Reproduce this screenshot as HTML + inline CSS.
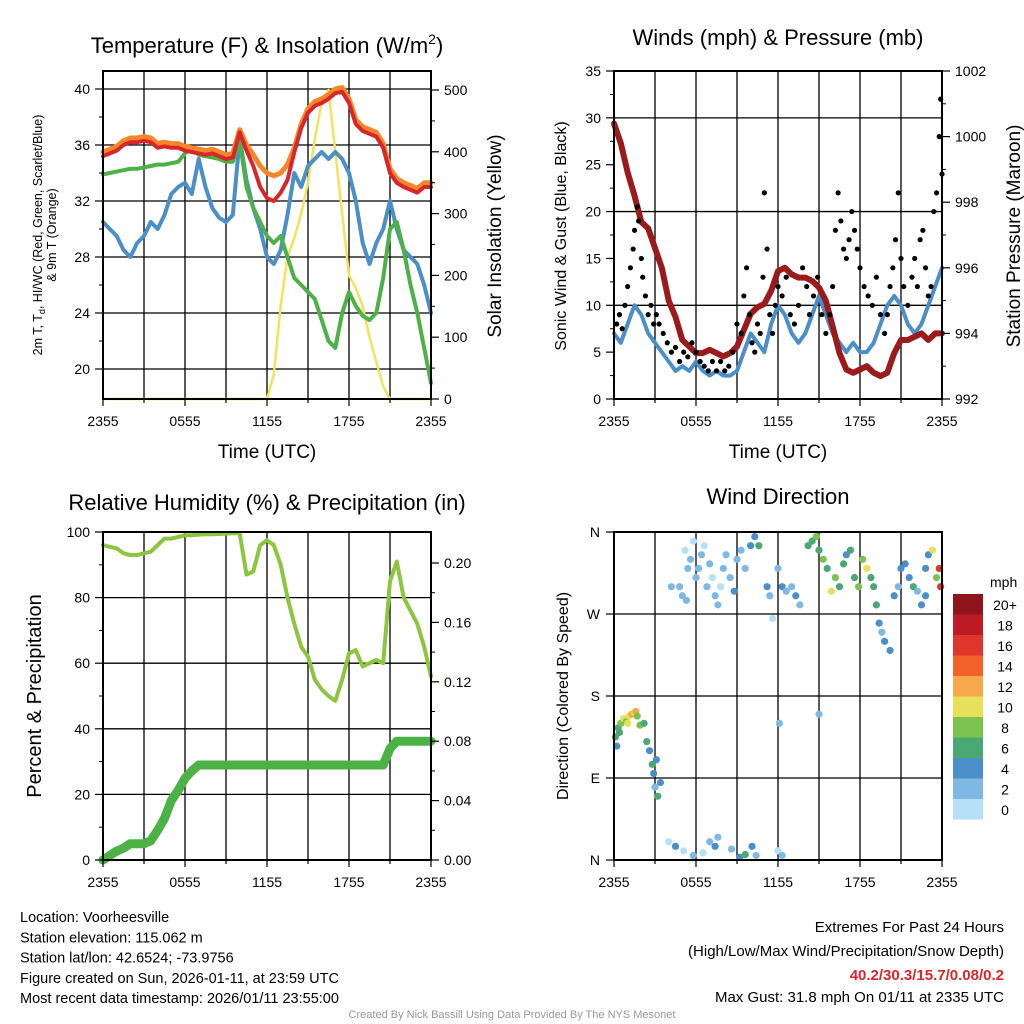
<!DOCTYPE html>
<html><head><meta charset="utf-8"><style>
body{margin:0;background:#fff;}
svg{display:block;font-family:"Liberation Sans",sans-serif;}
</style></head><body>
<svg id="c" width="1024" height="1024" viewBox="0 0 1024 1024"></svg>
<script>
// ---------- DATA ----------
const hours = [0,0.5,1,1.5,2,2.5,3,3.5,4,4.5,5,5.5,6,6.5,7,7.5,8,8.5,9,9.5,10,10.5,11,11.5,12,12.5,13,13.5,14,14.5,15,15.5,16,16.5,17,17.5,18,18.5,19,19.5,20,20.5,21,21.5,22,22.5,23,23.5,24];
const xTickLabels = ["2355","0555","1155","1755","2355"];
const tempRed = [35.2,35.4,35.6,36.0,36.2,36.2,36.3,36.2,35.8,35.9,35.8,35.8,35.6,35.5,35.4,35.3,35.4,35.2,35.0,35.1,36.9,35.6,34.5,33.0,32.2,32.0,32.6,33.5,35.5,37.2,38.3,38.8,39.0,39.3,39.7,39.8,39.0,37.5,37.0,36.8,36.6,35.8,34.0,33.3,33.0,32.8,32.6,33.0,33.0];
const temp9mOrange = [35.5,35.7,35.9,36.3,36.5,36.5,36.6,36.5,36.1,36.2,36.1,36.1,35.9,35.8,35.7,35.6,35.7,35.5,35.3,35.4,37.1,36.0,35.3,34.5,34.0,33.8,34.0,34.6,35.8,37.5,38.6,39.1,39.3,39.6,40.0,40.1,39.3,37.8,37.3,37.1,36.9,36.1,34.3,33.6,33.3,33.1,32.9,33.3,33.3];
const dewGreen = [33.9,34.0,34.1,34.2,34.3,34.3,34.4,34.5,34.6,34.6,34.7,34.8,35.4,35.8,35.3,35.2,35.1,35.0,34.8,34.8,36.3,33.0,31.5,30.5,29.5,29.0,29.5,28.0,26.5,26.0,25.5,25.0,23.5,22.0,21.5,24.0,25.5,24.5,23.8,23.5,24.0,26.5,30.0,30.5,28.5,26.0,24.0,21.5,19.0];
const windChillBlue = [30.5,30.0,29.5,28.5,28.0,29.0,29.5,30.5,30.0,31.0,32.5,33.0,33.3,32.5,35.0,33.0,31.5,30.8,30.5,31.0,36.5,33.5,31.5,30.0,28.0,27.5,28.5,31.0,34.0,33.0,34.5,35.0,35.5,35.0,35.5,35.0,34.0,32.0,29.0,27.5,29.0,30.0,32.0,30.0,28.5,28.0,27.5,26.0,24.0];
const solarYellow = [0,0,0,0,0,0,0,0,0,0,0,0,0,0,0,0,0,0,0,0,0,0,0,0,0,40,150,230,260,300,350,420,480,500,400,300,200,180,150,100,60,20,0,0,0,0,0,0,0];
const tempTicks = [20,24,28,32,36,40];
const solarTicks = [0,100,200,300,400,500];

const windBlue = [7,6,8,10,9,7,6,5,4,3,3.5,3,4,3,2.5,3,2.5,2.5,3,5,7,6,5,8,10,9,7,6,7,9,11,9,7,6,5,6,5,5,6,8,10,11,10,8,7,8,10,12,14];
const pressureMaroon = [1000.4,999.8,998.9,998.2,997.4,997.2,996.6,996.0,995.0,994.5,993.8,993.6,993.4,993.4,993.5,993.4,993.3,993.4,993.6,994.1,994.6,994.8,994.9,995.3,995.9,996.0,995.8,995.7,995.7,995.6,995.4,995.0,994.2,993.4,992.9,992.8,992.9,993.0,992.8,992.7,992.8,993.4,993.8,993.8,993.9,994.0,993.8,994.0,994.0];
const gustHours = [0.2,0.4,0.6,0.8,1,1.2,1.4,1.5,1.7,1.8,2,2.1,2.3,2.5,2.7,2.9,3.1,3.3,3.6,3.9,4.2,4.5,4.8,5.1,5.4,5.7,6,6.3,6.6,6.9,7.2,7.5,7.8,8.1,8.4,8.7,9,9.3,9.5,9.7,9.9,10.1,10.3,10.5,10.7,10.9,11,11.2,11.4,11.6,11.8,12,12.3,12.6,12.9,13.2,13.5,13.8,14.1,14.3,14.6,14.9,15.2,15.5,15.8,16,16.2,16.4,16.6,16.8,17,17.2,17.4,17.6,17.8,18,18.3,18.6,18.9,19.2,19.5,19.8,20,20.2,20.4,20.6,20.8,21,21.2,21.5,21.8,22,22.2,22.4,22.6,22.8,23,23.2,23.4,23.6,23.8,23.9,24];
const gustValues = [8,9,7.5,10,12,14,16,18,20.5,19,15,13,11,9,10,8,9,8,7,6,5,5.5,4,5,4.5,6,5,4,3.5,3,4,3,4,3,3.5,5,8,7,11,14,9,6,5,8,7,13,22,16,9,7,10,12,11,13,9,8,10,14,12,9,11,13,9,7,9,12,18,22,19,16,15,17,20,18,16,14,12,11,10,13,9,7,9,12,14,17,22,15,12,10,13,15,12,17,18,14,11,12,20,22,28,32,24];
const windTicks = [0,5,10,15,20,25,30,35];
const pressTicks = [992,994,996,998,1000,1002];

const rhPct = [96,95.5,95,93.5,93,93,93.5,94,96,98,98,98.5,99,99,99.2,99.3,99.3,99.4,99.5,99.6,99.6,87,88,96,97.5,96,90,80,72,65,62,55,52,50,48.5,55,63,64,59,60,61,60,85,91,80,76,72,65,56];
const precipIn = [0,0.003,0.006,0.008,0.011,0.011,0.011,0.013,0.02,0.028,0.04,0.047,0.055,0.06,0.064,0.064,0.064,0.064,0.064,0.064,0.064,0.064,0.064,0.064,0.064,0.064,0.064,0.064,0.064,0.064,0.064,0.064,0.064,0.064,0.064,0.064,0.064,0.064,0.064,0.064,0.064,0.064,0.075,0.08,0.08,0.08,0.08,0.08,0.08];
const pctTicks = [0,20,40,60,80,100];
const precipTicks = [0.00,0.04,0.08,0.12,0.16,0.20];

const dirHours = [0.1,0.2,0.3,0.4,0.5,0.7,0.9,1.0,1.1,1.3,1.5,1.6,1.7,1.9,2.2,2.4,2.6,2.8,2.9,3.0,3.1,3.2,3.4,4.8,5.0,5.2,5.4,5.6,5.8,6.0,6.2,6.4,6.6,6.8,7.0,7.2,7.4,7.6,7.8,8.0,8.2,8.5,8.8,9.0,9.3,9.6,10.0,10.3,10.6,5.1,5.8,6.5,7.0,7.4,7.6,8.6,9.2,9.6,10.1,10.4,11.2,11.4,11.6,12.0,12.3,12.6,13.0,13.3,13.6,14.2,14.5,14.8,15.0,15.3,15.6,15.9,16.2,16.5,16.8,17.0,17.3,17.6,17.9,18.2,18.5,18.8,19.0,19.2,19.4,19.6,19.8,20.2,20.5,20.8,21.0,21.3,21.6,21.9,22.2,22.5,22.8,23.0,23.3,23.6,23.8,23.9,22.8,5.3,4.0,4.2,4.5,12.0,12.3,15.0,12.1];
const dirDegrees = [135,125,145,140,150,155,152,150,158,160,162,163,158,148,150,130,120,105,95,80,110,70,85,300,290,340,320,330,350,310,320,335,345,300,325,310,290,280,300,320,335,310,295,330,340,320,345,355,345,10,5,8,20,15,25,12,3,6,15,5,300,290,265,320,300,295,300,290,280,345,350,355,340,330,320,295,310,300,325,335,340,310,300,330,320,310,300,280,260,250,240,230,290,300,320,325,310,300,295,280,320,335,340,310,320,300,290,285,20,300,15,10,5,160,150,170,140];
const dirSpeeds = [6,4,7,6,9,10,8,11,11,12,10,12,9,8,7,6,5,6,4,3,4,6,5,3,2,1,2,3,1,2,3,2,1,3,2,1,3,2,1,3,2,3,4,3,2,3,4,5,6,1,2,1,3,4,2,3,5,6,4,3,5,2,1,3,4,2,3,4,2,6,7,8,6,9,7,10,8,7,6,5,7,6,8,9,10,7,6,7,5,3,4,4,4,3,5,4,4,6,3,4,5,4,10,9,16,17,4,2,1,2,4,1,2,3,2];
const dirTickLabels = ["N","E","S","W","N"];
const legendLabels = ["20+","18","16","14","12","10","8","6","4","2","0"];
const legendColors = ["#8e151b","#bc1b25","#e0352a","#f26228","#f7a84a","#e8e05a","#7bc24e","#4aa874","#4a8fc8","#7eb9e6","#b6e0f7"];

// ---------- HELPERS ----------
const NS = "http://www.w3.org/2000/svg";
const svg = document.getElementById('c');
function mk(tag, attrs, parent){
  const e = document.createElementNS(NS, tag);
  for (const k in attrs) e.setAttribute(k, attrs[k]);
  (parent||svg).appendChild(e);
  return e;
}
function txt(s, x, y, size, anchor, parent, extra){
  const t = mk('text', Object.assign({x:x, y:y, 'font-size':size, 'text-anchor':anchor||'middle', fill:'#000'}, extra||{}), parent);
  t.textContent = s;
  return t;
}
function linePath(xs, ys){ return xs.map((x,i)=>(i?'L':'M')+x.toFixed(1)+' '+ys[i].toFixed(1)).join(' '); }

function panel(name, x0, y0, w, h){
  const g = mk('g', {});
  
  
  return {g, x0, y0, w, h};
}
function timeX(p, hr){ return p.x0 + hr * p.w / 24; }
function grid(p, yVals, yFn){
  const gg = mk('g', {stroke:'#000','stroke-width':1.3,fill:'none'}, p.g);
  
  
  for (let i=1;i<8;i++){ const x = p.x0 + i*p.w/8; mk('line',{x1:x,x2:x,y1:p.y0,y2:p.y0+p.h},gg); }
  yVals.forEach(v=>{ const y=yFn(v); if (y>p.y0+1 && y<p.y0+p.h-1) mk('line',{x1:p.x0,x2:p.x0+p.w,y1:y,y2:y},gg); });
}
function frame(p){
  const f = mk('rect',{x:p.x0,y:p.y0,width:p.w,height:p.h,fill:'none',stroke:'#000','stroke-width':2},p.g);
  
  
}
function xAxis(p){
  const ax = mk('g',{},p.g);
  
  
  for (let i=0;i<=8;i++){ const x=p.x0+i*p.w/8; mk('line',{x1:x,x2:x,y1:p.y0+p.h,y2:p.y0+p.h+(i%2?4:7),stroke:'#000','stroke-width':1.2},ax); }
  xTickLabels.forEach((l,i)=>{ const t=txt(l, p.x0+i*p.w/4, p.y0+p.h+27, 14, 'middle', ax);   });
}
function yAxis(p, ticks, fn, side, fmt, minorPer){
  const ax = mk('g',{},p.g);
  
  
  const xe = side==='left'? p.x0 : p.x0+p.w;
  const d = side==='left'? -1 : 1;
  ticks.forEach((v,i)=>{
    const y=fn(v);
    mk('line',{x1:xe,x2:xe+d*8,y1:y,y2:y,stroke:'#000','stroke-width':1.2},ax);
    const t=txt(fmt(v), xe+d*13, y+5, 14, side==='left'?'end':'start', ax);
    
    
    if (i<ticks.length-1){ for(let k=1;k<minorPer;k++){ const ym = fn(v+(ticks[i+1]-v)*k/minorPer); mk('line',{x1:xe,x2:xe+d*4,y1:ym,y2:ym,stroke:'#000','stroke-width':1},ax);} }
  });
}
function series(p, name, vals, fn, color, width){
  const xs = hours.map(hh=>timeX(p,hh));
  const ys = vals.map(fn);
  const path = mk('path',{d:linePath(xs,ys),fill:'none',stroke:color,'stroke-width':width,'stroke-linejoin':'round','stroke-linecap':'round'},p.g);
  
  
  return path;
}

// ---------- PANEL 1 ----------
const p1 = panel('temperature-panel', 103, 71, 328, 328);
const yT = v => 369 - (v-20)*14;
const yS = v => 399 - v*0.618;
grid(p1, tempTicks, yT);
series(p1,'solar-insolation-line',solarYellow,yS,'#f5e15a',2.5);
series(p1,'wind-chill-line',windChillBlue,yT,'#4a8fc8',4);
series(p1,'dewpoint-line',dewGreen,yT,'#4db246',4);
series(p1,'temp-9m-line',temp9mOrange,yT,'#f7862a',5);
series(p1,'temp-2m-line',tempRed,yT,'#d9262a',4);
frame(p1); xAxis(p1);
yAxis(p1,tempTicks,yT,'left',v=>String(v),2);
yAxis(p1,solarTicks,yS,'right',v=>String(v),2);
let t;
t=mk('text',{x:267,y:53,'font-size':22,'text-anchor':'middle'},p1.g);
t.innerHTML='Temperature (F) &amp; Insolation (W/m<tspan dy="-9" font-size="14">2</tspan><tspan dy="9">)</tspan>';
 
t=txt('Time (UTC)',267,458,19,'middle',p1.g);  
t=mk('text',{x:0,y:0,'font-size':12.5,'text-anchor':'middle',transform:'translate(42,235) rotate(-90)'},p1.g);
t.innerHTML='2m T, T<tspan dy="3" font-size="9">d</tspan><tspan dy="-3">, HI/WC (Red, Green, Scarlet/Blue)</tspan>';
 
t=mk('text',{x:0,y:0,'font-size':12.5,'text-anchor':'middle',transform:'translate(56,235) rotate(-90)'},p1.g);
t.textContent='& 9m T (Orange)';
 
t=mk('text',{x:0,y:0,'font-size':19,'text-anchor':'middle',transform:'translate(501,236) rotate(-90)'},p1.g);
t.textContent='Solar Insolation (Yellow)';
 

// ---------- PANEL 2 ----------
const p2 = panel('winds-panel', 614, 71, 328, 328);
const yW = v => 399 - v*9.371;
const yP = v => 399 - (v-992)*32.8;
grid(p2, windTicks.filter((v,i)=>i%2===0), yW);
series(p2,'sonic-wind-line',windBlue,yW,'#4a8fc8',4);
series(p2,'pressure-line',pressureMaroon,yP,'#9b1a1c',6);
gustHours.forEach((hh,i)=>{
  const c = mk('circle',{cx:timeX(p2,hh),cy:yW(gustValues[i]),r:2.6,fill:'#000'},p2.g);
  
  
});
frame(p2); xAxis(p2);
yAxis(p2,windTicks,yW,'left',v=>String(v),2);
yAxis(p2,pressTicks,yP,'right',v=>String(v),2);
t=txt('Winds (mph) & Pressure (mb)',778,45,22,'middle',p2.g);  
t=txt('Time (UTC)',778,458,19,'middle',p2.g);  
t=mk('text',{x:0,y:0,'font-size':16,'text-anchor':'middle',transform:'translate(566,236) rotate(-90)'},p2.g);
t.textContent='Sonic Wind & Gust (Blue, Black)';
 
t=mk('text',{x:0,y:0,'font-size':19,'text-anchor':'middle',transform:'translate(1020,236) rotate(-90)'},p2.g);
t.textContent='Station Pressure (Maroon)';
 

// ---------- PANEL 3 ----------
const p3 = panel('humidity-panel', 103, 532, 328, 328);
const yR = v => 860 - v*3.28;
const yPr = v => 860 - v*1485;
grid(p3, pctTicks, yR);
series(p3,'precipitation-line',precipIn,yPr,'#4db246',9);
series(p3,'relative-humidity-line',rhPct,yR,'#8cc63f',4);
frame(p3); xAxis(p3);
yAxis(p3,pctTicks,yR,'left',v=>String(v),2);
yAxis(p3,precipTicks,yPr,'right',v=>v.toFixed(2),2);
t=txt('Relative Humidity (%) & Precipitation (in)',267,510,22,'middle',p3.g);  
t=mk('text',{x:0,y:0,'font-size':20,'text-anchor':'middle',transform:'translate(41,696) rotate(-90)'},p3.g);
t.textContent='Percent & Precipitation';
 

// ---------- PANEL 4 ----------
const p4 = panel('wind-direction-panel', 614, 532, 328, 328);
const yD = v => 860 - v*328/360;
grid(p4, [0,90,180,270,360], yD);
function spdColor(s){ let i = Math.min(10, Math.floor(s/2)); return legendColors[10-i]; }
dirHours.forEach((hh,i)=>{
  const c = mk('circle',{cx:timeX(p4,hh),cy:yD(dirDegrees[i]),r:3.6,fill:spdColor(dirSpeeds[i])},p4.g);
  
  
});
frame(p4); xAxis(p4);
dirTickLabels.forEach((l,i)=>{
  const y = yD(i*90);
  mk('line',{x1:614,x2:606,y1:y,y2:y,stroke:'#000','stroke-width':1.2},p4.g);
  const tt=txt(l,600,y+5,14,'end',p4.g);
   
});
t=txt('Wind Direction',778,504,22,'middle',p4.g);  
t=mk('text',{x:0,y:0,'font-size':16,'text-anchor':'middle',transform:'translate(568,696) rotate(-90)'},p4.g);
t.textContent='Direction (Colored By Speed)';
 
const leg = mk('g',{},p4.g);


t=txt('mph',990,587,14,'start',leg);  
legendLabels.forEach((l,i)=>{
  const y = 594 + i*20.5;
  const r = mk('rect',{x:953,y:y,width:30,height:20.5,fill:legendColors[i]},leg);
  
  
  const tt = txt(l,1005,y+16,14,'middle',leg);
   
});

// ---------- FOOTER ----------
const info = mk('g',{});


["Location: Voorheesville","Station elevation: 115.062 m","Station lat/lon: 42.6524; -73.9756","Figure created on Sun, 2026-01-11, at 23:59 UTC","Most recent data timestamp: 2026/01/11 23:55:00"].forEach((s,i)=>{
  const tt = txt(s,20,922+i*20.3,14.5,'start',info);
   
});
const ext = mk('g',{});


t=txt('Extremes For Past 24 Hours',1004,932,15,'end',ext);  
t=txt('(High/Low/Max Wind/Precipitation/Snow Depth)',1004,956,15,'end',ext);  
t=txt('40.2/30.3/15.7/0.08/0.2',1004,980,15,'end',ext,{fill:'#d9262a','font-weight':'bold'});  
t=txt('Max Gust: 31.8 mph On 01/11 at 2335 UTC',1004,1002,15,'end',ext);  
t=txt('Created By Nick Bassill Using Data Provided By The NYS Mesonet',512,1018,11,'middle',null,{fill:'#999'});  
</script>
</body></html>
